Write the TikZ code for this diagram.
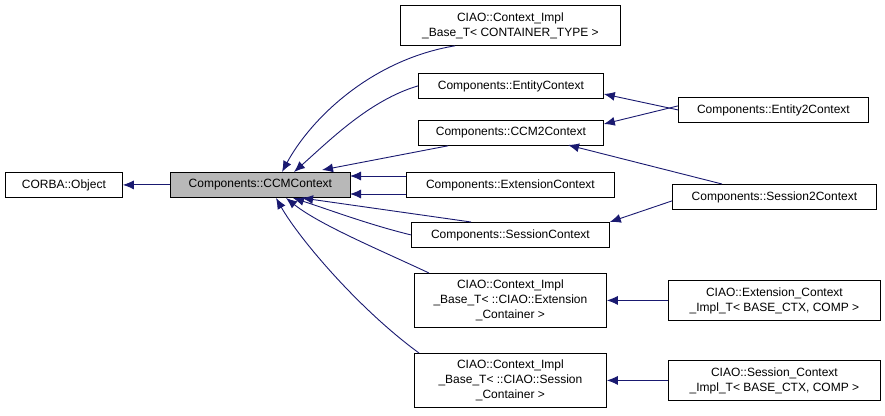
\documentclass[tikz,border=0pt]{standalone}
\usepackage{fontspec}
\setmainfont{Liberation Sans}
\usetikzlibrary{arrows.meta}
\begin{document}
\begin{tikzpicture}[x=1pt,y=-1pt,
 box/.style={draw,line width=0.8pt,inner sep=0pt,anchor=north west}]
\useasboundingbox (0,0) rectangle (885,415);
\newcommand{\bx}[6]{\node[box,fill=#6,minimum width=#4-#2,minimum height=#5-#3] (#1) at (#2,#3) {};}
\bx{corba}{5}{172}{122}{197}{white}
\bx{ccm}{170}{172}{350}{197}{black!28}
\bx{cimpl}{400}{5}{620}{45}{white}
\bx{ent}{418}{73}{603}{98}{white}
\bx{ccm2}{418}{120}{603}{145}{white}
\bx{ext}{406}{172}{614}{197}{white}
\bx{ses}{411}{222}{609}{247}{white}
\bx{cext}{414}{273}{606}{327}{white}
\bx{cses}{414}{353}{606}{407}{white}
\bx{ent2}{678}{97}{868}{122}{white}
\bx{ses2}{672}{184}{876}{209}{white}
\bx{iext}{668}{280}{880}{320}{white}
\bx{ises}{668}{360}{880}{400}{white}
\tikzset{t/.style={font=\fontsize{12}{15}\selectfont,align=center}}
\node[t] at (corba) {CORBA::Object};
\node[t] at (ccm) {Components::CCMContext};
\node[t] at (cimpl) {CIAO::Context\_Impl\\\_Base\_T\textless{} CONTAINER\_TYPE \textgreater};
\node[t] at (ent) {Components::EntityContext};
\node[t] at (ccm2) {Components::CCM2Context};
\node[t] at (ext) {Components::ExtensionContext};
\node[t] at (ses) {Components::SessionContext};
\node[t] at (cext) {CIAO::Context\_Impl\\\_Base\_T\textless{} ::CIAO::Extension\\\_Container \textgreater};
\node[t] at (cses) {CIAO::Context\_Impl\\\_Base\_T\textless{} ::CIAO::Session\\\_Container \textgreater};
\node[t] at (ent2) {Components::Entity2Context};
\node[t] at (ses2) {Components::Session2Context};
\node[t] at (iext) {CIAO::Extension\_Context\\\_Impl\_T\textless{} BASE\_CTX, COMP \textgreater};
\node[t] at (ises) {CIAO::Session\_Context\\\_Impl\_T\textless{} BASE\_CTX, COMP \textgreater};
\tikzset{e/.style={draw={rgb,255:red,25;green,25;blue,112},line width=0.9pt,-{Latex[length=11pt,width=9pt]}}}
\draw[e] (ccm) -- (corba);
\draw[e] (cimpl.south west) ++(55,0) coordinate (c1) .. controls (370,60) and (310,120) .. (282,172);
\draw[e] (ent.west) .. controls (370,100) and (330,140) .. (294,172);
\draw[e] (ccm2.south west) ++(30,0) coordinate (c2) -- (322,170);
\draw[e] (ext.west |- 0,176) coordinate (c3) -- (350,176);
\draw[e] (ext.west |- 0,194) coordinate (c4) -- (350,194);
\draw[e] (ses.north west) ++(60,0) coordinate (c5) -- (302,198);
\draw[e] (ses.west) .. controls (370,225) and (330,210) .. (293,198);
\draw[e] (cext.north west) ++(15,0) coordinate (c6) .. controls (380,250) and (320,225) .. (286,198);
\draw[e] (cses.north west) ++(5,0) coordinate (c7) .. controls (360,310) and (300,240) .. (276,198);
\draw[e] (ent2.west) -- (ent.east |- 0,94);
\draw[e] (ent2.west) ++(0,-4) coordinate (c8) -- (ccm2.east |- 0,124);
\draw[e] (ses2.north west) ++(50,0) coordinate (c9) -- (568,145);
\draw[e] (ses2.west) ++(0,4) coordinate (c10) -- (ses.east |- 0,222);
\draw[e] (iext) -- (cext);
\draw[e] (ises) -- (cses);
\end{tikzpicture}
\end{document}
